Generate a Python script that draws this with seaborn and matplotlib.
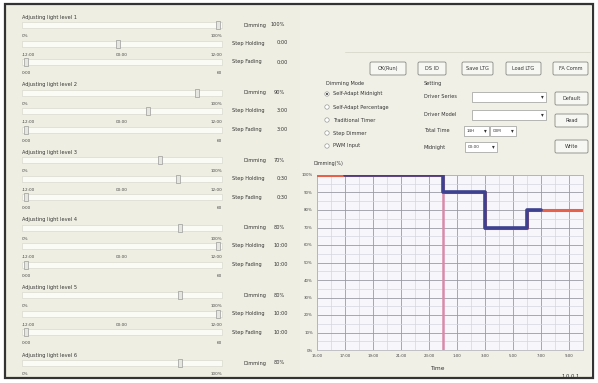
import numpy as np
import pandas as pd
import seaborn as sns
import matplotlib.pyplot as plt
from matplotlib.patches import Rectangle, FancyBboxPatch, Circle

# profile data (hours counted from 15:00)
profile_hours = [0, 9, 12, 15, 19]
profile_levels = [100, 90, 70, 80, 80]
active_hours = [2, 9, 12, 15, 16]
active_levels = [100, 90, 70, 80, 80]
midnight_hour = 9
tick_hours = [0, 2, 4, 6, 8, 10, 12, 14, 16, 18]
tick_labels = ["15:00", "17:00", "19:00", "21:00", "23:00", "1:00", "3:00", "5:00", "7:00", "9:00"]
y_ticks = [0, 10, 20, 30, 40, 50, 60, 70, 80, 90, 100]

# left panel values
level_titles = ["Adjusting light level %d" % i for i in range(1, 7)]
dimming_values = ["100%", "90%", "70%", "80%", "80%", "80%"]
dimming_pos = [0.98, 0.875, 0.69, 0.79, 0.79, 0.79]
holding_values = ["0:00", "3:00", "0:30", "10:00", "10:00"]
holding_pos = [0.48, 0.63, 0.78, 0.98, 0.98]
fading_values = ["0:00", "3:00", "0:30", "10:00", "10:00"]
fading_pos = [0.02, 0.02, 0.02, 0.02, 0.02]

top_buttons = ["OK(Run)", "DS ID", "Save LTG", "Load LTG", "FA Comm"]
mode_options = ["Self-Adapt Midnight", "Self-Adapt Percentage", "Traditional Timer",
                "Step Dimmer", "PWM Input"]
setting_rows = ["Driver Series", "Driver Model", "Total Time", "Midnight"]
side_buttons = ["Default", "Read", "Write"]

W, H = 598, 383
BG = "#efeee2"
sns.set_theme(style="white")
plt.rcParams['font.family'] = ['DejaVu Sans']

fig = plt.figure(figsize=(W / 100, H / 100), dpi=100)
fig.patch.set_facecolor("white")
bg = fig.add_axes([0, 0, 1, 1])
bg.set_xlim(0, W)
bg.set_ylim(H, 0)
bg.axis("off")

# window frame
bg.add_patch(Rectangle((5, 4), 588, 374, facecolor=BG, edgecolor="#333333", lw=1.6))
bg.add_patch(Rectangle((300, 6), 292, 370, facecolor="#f1f0e6", edgecolor="none"))

fs = 3.6
tfs = 3.0
for i, title in enumerate(level_titles):
    y0 = 17 + i * 67.6
    bg.text(22, y0, title, fontsize=fs, va="center", color="#333333")
    rows = [(dimming_pos[i], ("0%", None, "100%"))]
    if i < 5:
        rows.append((holding_pos[i], ("-12:00", "00:00", "12:00")))
        rows.append((fading_pos[i], ("0:00", None, "60")))
    for j, (pos, labs) in enumerate(rows):
        ty = y0 + 8 + j * 18.5
        if ty > 376:
            continue
        bg.add_patch(Rectangle((22, ty - 3), 200, 6, facecolor="#fbfbf6",
                               edgecolor="#d9d9cf", lw=0.5))
        tx = 22 + pos * 200
        bg.add_patch(Rectangle((tx - 2, ty - 4), 4, 8, facecolor="#e6e6e0",
                               edgecolor="#9a9a9a", lw=0.5))
        ly = ty + 11
        if ly < 376:
            bg.text(22, ly, labs[0], fontsize=tfs, va="center", color="#444444")
            if labs[1]:
                bg.text(122, ly, labs[1], fontsize=tfs, va="center", ha="center", color="#444444")
            bg.text(222, ly, labs[2], fontsize=tfs, va="center", ha="right", color="#444444")
    bg.text(243, y0 + 8, "Dimming", fontsize=fs, va="center", color="#333333")
    bg.text(285, y0 + 8, dimming_values[i], fontsize=fs, va="center", ha="right", color="#333333")
    if i < 5:
        bg.text(232, y0 + 26, "Step Holding", fontsize=fs, va="center", color="#333333")
        bg.text(288, y0 + 26, holding_values[i], fontsize=fs, va="center", ha="right", color="#333333")
        bg.text(232, y0 + 45, "Step Fading", fontsize=fs, va="center", color="#333333")
        bg.text(288, y0 + 45, fading_values[i], fontsize=fs, va="center", ha="right", color="#333333")


def button(x, y, w, h, label):
    bg.add_patch(FancyBboxPatch((x, y), w, h, boxstyle="round,pad=0,rounding_size=1.5",
                                facecolor="#f6f6f2", edgecolor="#8a8a84", lw=0.6))
    bg.text(x + w / 2, y + h / 2, label, fontsize=fs, ha="center", va="center", color="#333333")


bg.plot([345, 590], [52, 52], color="#d8d8cc", lw=0.6)
for (x, w), lab in zip([(370, 36), (418, 28), (462, 31), (506, 35), (553, 35)], top_buttons):
    button(x, 62, w, 13, lab)

bg.text(345, 83, "Dimming Mode", fontsize=fs, ha="center", va="center", color="#333333")
for k, opt in enumerate(mode_options):
    oy = 94 + k * 13
    bg.add_patch(Circle((327, oy), 2.2, facecolor="white", edgecolor="#999999", lw=0.5))
    if k == 0:
        bg.add_patch(Circle((327, oy), 1.0, facecolor="#333333", edgecolor="none"))
    bg.text(333, oy, opt, fontsize=fs, va="center", color="#333333")

bg.text(424, 83, "Setting", fontsize=fs, va="center", color="#333333")
for k, row in enumerate(setting_rows):
    ry = [97, 115, 131, 147][k]
    bg.text(424, ry, row, fontsize=fs, va="center", color="#333333")
combos = [(472, 92, 74, ""), (472, 110, 74, ""), (464, 126, 25, "14H"),
          (490, 126, 26, "00M"), (465, 142, 32, "00:00")]
for cx, cy, cw, ctext in combos:
    bg.add_patch(Rectangle((cx, cy), cw, 10, facecolor="white", edgecolor="#9a9a9a", lw=0.5))
    bg.text(cx + 3, cy + 5, ctext, fontsize=tfs, va="center", color="#333333")
    bg.text(cx + cw - 4, cy + 5, "\u25be", fontsize=4, va="center", ha="center", color="#333333")
for k, lab in enumerate(side_buttons):
    button(555, [92, 114, 140][k], 33, 13, lab)

# chart
ax = fig.add_axes([317 / W, 1 - 350 / H, 266 / W, 175 / H])
ax.set_facecolor("#f6f6fb")
ax.set_xlim(0, 19)
ax.set_ylim(0, 100)
ax.set_xticks(tick_hours)
ax.set_xticklabels(tick_labels)
ax.set_yticks(y_ticks)
ax.set_yticklabels(["%d%%" % v for v in y_ticks])
ax.set_xticks(np.arange(1, 19, 1), minor=True)
ax.set_yticks(np.arange(5, 100, 5), minor=True)
ax.grid(which="major", color="#9a9aa6", lw=0.6)
ax.grid(which="minor", color="#d6d6e2", lw=0.5)
ax.tick_params(axis="both", labelsize=2.8, length=0, pad=3, colors="#444444")
for s in ax.spines.values():
    s.set_color("#b8b8c0")
    s.set_linewidth(0.6)

prof = pd.DataFrame({"hour": profile_hours, "level": profile_levels})
act = pd.DataFrame({"hour": active_hours, "level": active_levels})
sns.lineplot(data=prof, x="hour", y="level", drawstyle="steps-post", color="#e8604a",
             lw=2.2, ax=ax, zorder=3)
ax.axvline(midnight_hour, color="#d98aaa", lw=1.8, zorder=4)
sns.lineplot(data=act, x="hour", y="level", drawstyle="steps-post", color="#3d4190",
             lw=2.6, ax=ax, zorder=5)
ax.set_xlabel("")
ax.set_ylabel("")

bg.text(313, 164, "Dimming(%)", fontsize=3.4, va="center", color="#333333")
bg.text(437, 368, "Time", fontsize=4.2, ha="center", va="center", color="#333333")
bg.text(580, 376, "1.0.0.1", fontsize=3.8, ha="right", va="center", color="#333333")

fig.savefig("out.png", dpi=100, facecolor=fig.get_facecolor())
